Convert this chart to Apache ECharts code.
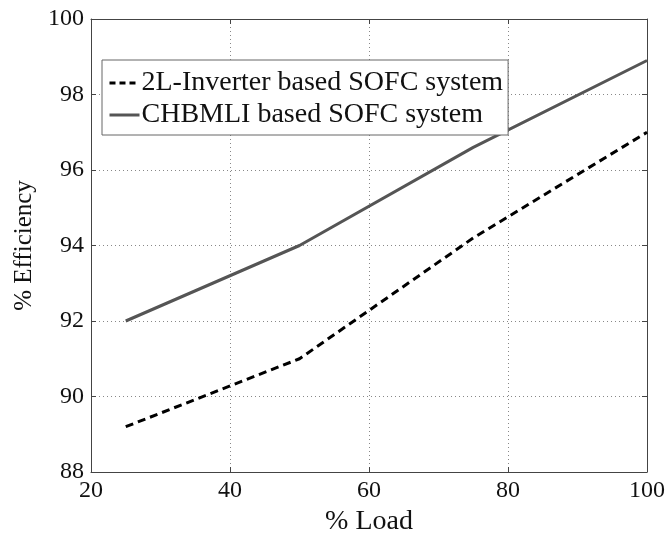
<!DOCTYPE html>
<html><head><meta charset="utf-8">
<script src="https://cdn.jsdelivr.net/npm/echarts@6/dist/echarts.min.js"></script>
<style>html,body{margin:0;padding:0;background:#fff}#c{width:671px;height:536px}</style>
</head><body><div id="c"></div>
<script>
const loads = [25, 50, 75, 100];
const inv2L = [89.2, 91.0, 94.2, 97.0];
const chb = [92.0, 94.0, 96.6, 98.9];
const seriesNames = ['2L-Inverter based SOFC system', 'CHBMLI based SOFC system'];
const xTicks = [20, 40, 60, 80, 100];
const yTicks = [88, 90, 92, 94, 96, 98, 100];

const font = 'Liberation Serif';
const chart = echarts.init(document.getElementById('c'));
const axCommon = {
  axisLine: {show: true, lineStyle: {color: '#444', width: 1}},
  axisTick: {show: true, inside: true, length: 5, lineStyle: {color: '#444'}},
};
chart.setOption({
  animation: false,
  textStyle: {fontFamily: font},
  grid: {left: 91, right: 24, top: 19, bottom: 64, containLabel: false, outerBoundsMode: 'none'},
  legend: {
    left: 102, top: 60,
    orient: 'vertical', itemGap: 4, itemWidth: 30, itemHeight: 14,
    padding: [9, 5, 6, 6],
    borderColor: '#666', borderWidth: 1, backgroundColor: '#fff',
    itemStyle: {opacity: 0},
    lineStyle: {width: 3},
    textStyle: {fontFamily: font, fontSize: 28, color: '#111', padding: [0, 0, 0, -3]},
    data: [
      {name: seriesNames[0], lineStyle: {width: 3, type: [6, 4], color: '#000'}},
      {name: seriesNames[1], lineStyle: {width: 3, color: '#555'}}
    ]
  },
  xAxis: [{
    type: 'value', min: xTicks[0], max: xTicks[xTicks.length - 1], interval: 20,
    name: '% Load', nameLocation: 'middle', nameGap: 34,
    nameTextStyle: {fontFamily: font, fontSize: 28, color: '#111'},
    axisLabel: {fontFamily: font, fontSize: 24, color: '#111', margin: 7},
    splitLine: {show: true, lineStyle: {color: '#888', type: [1, 3], width: 1}},
    ...axCommon
  }, {
    type: 'value', position: 'top', min: 20, max: 100, interval: 20,
    axisLabel: {show: false}, splitLine: {show: false}, ...axCommon
  }],
  yAxis: [{
    type: 'value', min: yTicks[0], max: yTicks[yTicks.length - 1], interval: 2,
    name: '% Efficiency', nameLocation: 'middle', nameGap: 39,
    nameTextStyle: {fontFamily: font, fontSize: 25, color: '#111'},
    axisLabel: {fontFamily: font, fontSize: 24, color: '#111', margin: 7},
    splitLine: {show: true, lineStyle: {color: '#888', type: [1, 3], width: 1}},
    ...axCommon
  }, {
    type: 'value', position: 'right', min: 88, max: 100, interval: 2,
    axisLabel: {show: false}, splitLine: {show: false}, ...axCommon
  }],
  series: [{
    name: seriesNames[0], type: 'line', showSymbol: false, symbol: 'none',
    data: loads.map((x, i) => [x, inv2L[i]]),
    lineStyle: {color: '#000', width: 3, type: [8, 5]},
    itemStyle: {color: '#000'}
  }, {
    name: seriesNames[1], type: 'line', showSymbol: false, symbol: 'none',
    data: loads.map((x, i) => [x, chb[i]]),
    lineStyle: {color: '#555', width: 3},
    itemStyle: {color: '#555'}
  }]
});
</script></body></html>
